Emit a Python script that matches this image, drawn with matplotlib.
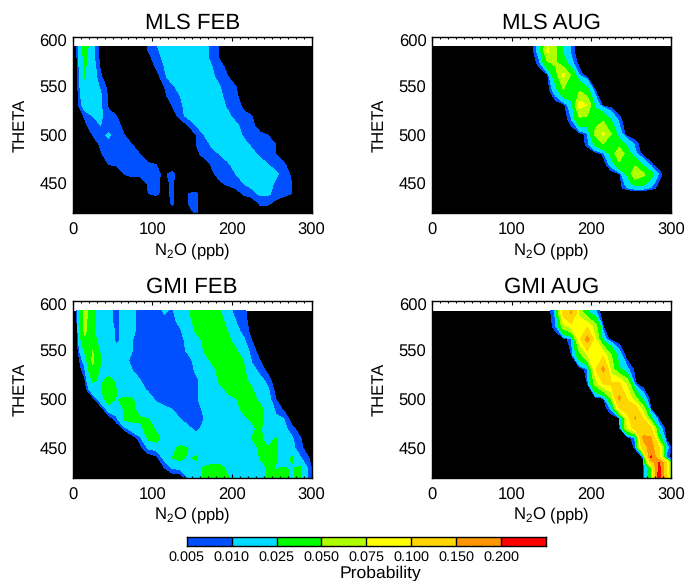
import matplotlib
matplotlib.use("Agg")
import matplotlib.pyplot as plt
import numpy as np
from matplotlib.colors import BoundaryNorm, ListedColormap
from matplotlib.transforms import ScaledTranslation

plt.rcParams["font.family"] = ["Liberation Sans", "DejaVu Sans"]
plt.rcParams["mathtext.fontset"] = "custom"
plt.rcParams["mathtext.rm"] = "Liberation Sans"
plt.rcParams["mathtext.default"] = "rm"
plt.rcParams["text.hinting"] = "no_hinting"

levels = [0.005, 0.010, 0.025, 0.050, 0.075, 0.100, 0.150, 0.200, 0.250]
level_labels = ["0.005", "0.010", "0.025", "0.050", "0.075", "0.100", "0.150", "0.200"]
colors = ["#0050ff", "#00dcff", "#00ff00", "#afff00", "#ffff00", "#ffd700", "#ff9600", "#ff0000"]

# N2O bin centres (ppb), values below are probability x 1000 per bin, zeros on the right left out
n2o_bins = np.arange(5, 306, 10)

mls_feb_theta = [420, 430, 440, 450, 460, 470, 480, 490, 500, 510, 520, 530, 540, 550, 560, 570, 580, 591]
mls_feb = [
    [0] * 14 + [3, 6],
    [0] * 12 + [6, 0, 5, 6, 0, 0, 0, 0, 0, 0, 0, 6, 6, 3],
    [0] * 9 + [5, 6, 3, 6, 0, 5, 6, 0, 0, 0, 0, 2, 6, 8, 11, 11, 8, 7, 5],
    [0] * 9 + [6, 6, 3, 6, 0, 0, 0, 0, 0, 4, 6, 8, 10, 12, 13, 12, 9, 7, 5],
    [0] * 6 + [5, 7, 7, 6, 6, 4, 7, 0, 0, 0, 0, 4, 7, 8, 10, 14, 16, 15, 13, 11, 8, 4],
    [0] * 4 + [5, 6, 7, 7, 6, 6, 5, 0, 0, 0, 0, 0, 1, 6, 8, 9, 13, 15, 15, 13, 10, 8, 6, 1],
    [0, 0, 0, 4, 8, 8, 7, 6, 5, 0, 0, 0, 0, 0, 0, 3, 7, 8, 10, 13, 15, 14, 12, 9, 7, 5, 1],
    [0, 0, 0, 6, 8, 8, 6, 5, 0, 0, 0, 0, 0, 0, 0, 5, 7, 11, 14, 15, 15, 12, 9, 7, 6, 5, 1],
    [0, 0, 5, 8, 11, 7, 5, 0, 0, 0, 0, 0, 0, 0, 0, 5, 10, 13, 15, 15, 13, 9, 7, 6, 5, 2],
    [0, 3, 9, 10, 7, 6, 4, 0, 0, 0, 0, 0, 0, 0, 5, 10, 13, 14, 15, 14, 11, 8, 6, 3],
    [0, 6, 10, 11, 7, 5, 0, 0, 0, 0, 0, 0, 0, 8, 12, 14, 15, 15, 14, 11, 8, 6, 5, 1],
    [2, 14, 14, 11, 4, 0, 0, 0, 0, 0, 0, 0, 5, 9, 12, 14, 15, 15, 12, 9, 7, 4],
    [2, 18, 14, 11, 4, 0, 0, 0, 0, 0, 0, 4, 7, 10, 13, 15, 15, 14, 11, 8, 6, 2],
    [2, 22, 14, 9, 3, 0, 0, 0, 0, 0, 0, 5, 9, 12, 14, 15, 15, 13, 10, 8, 5],
    [2, 26, 14, 6, 0, 0, 0, 0, 0, 0, 2, 9, 13, 15, 16, 17, 15, 11, 8, 5],
    [3, 27, 14, 4, 0, 0, 0, 0, 0, 0, 6, 10, 14, 16, 18, 17, 14, 10, 7, 3],
    [4, 30, 12, 3, 0, 0, 0, 0, 0, 4, 7, 12, 16, 18, 18, 16, 12, 8, 4],
    [4, 35, 12, 3, 0, 0, 0, 0, 0, 6, 9, 15, 18, 18, 18, 16, 12, 8, 4],
]

mls_aug_theta = [442, 446, 450, 460, 470, 481, 491, 501, 516, 531, 546, 562, 574, 586, 591]
mls_aug = [
    [0],
    [0] * 23 + [2, 10, 15, 15, 9, 2],
    [0] * 23 + [1, 14, 32, 30, 14, 3],
    [0] * 23 + [3, 28, 70, 55, 32, 8],
    [0] * 22 + [14, 42, 46, 46, 20, 6],
    [0] * 21 + [7, 32, 72, 36, 12, 2],
    [0] * 19 + [7, 30, 48, 48, 38, 20, 8],
    [0] * 19 + [8, 56, 80, 50, 16, 1],
    [0] * 17 + [9, 44, 42, 42, 46, 24, 7],
    [0] * 16 + [2, 18, 86, 74, 20, 2],
    [0] * 14 + [1, 16, 48, 42, 48, 32, 5],
    [0] * 14 + [4, 40, 82, 45, 9],
    [0] * 13 + [8, 46, 54, 34, 13, 2],
    [0] * 12 + [1, 16, 80, 52, 22, 8],
    [0] * 12 + [1, 16, 76, 54, 22, 8],
]

gmi_feb_theta = [420, 430, 440, 450, 460, 470, 480, 490, 500, 510, 520, 530, 540, 550, 560, 570, 580, 591]
gmi_feb = [
    [0] * 14 + [10, 16, 28, 32, 33, 26, 14, 13, 13, 13, 30, 28, 27, 24, 27, 10],
    [0] * 11 + [5, 11, 12, 14, 14, 27, 30, 30, 20, 14, 13, 13, 12, 28, 24, 26, 24, 27, 9],
    [0] * 10 + [3, 12, 25, 30, 22, 28, 14, 16, 15, 15, 15, 15, 14, 26, 27, 27, 14, 28, 11, 6],
    [0] * 8 + [3, 11, 12, 12, 20, 30, 25, 14, 14, 14, 14, 14, 13, 12, 14, 28, 27, 27, 14, 12, 7, 2],
    [0] * 8 + [8, 28, 33, 15, 13, 13, 12, 12, 12, 12, 12, 12, 12, 12, 26, 30, 14, 27, 16, 11, 6],
    [0] * 6 + [6, 15, 20, 35, 22, 13, 12, 12, 11, 9, 11, 12, 13, 14, 15, 16, 22, 28, 14, 13, 12, 7, 2],
    [0] * 5 + [8, 28, 30, 28, 25, 13, 12, 11, 10, 8, 8, 10, 13, 15, 17, 20, 22, 27, 33, 15, 11, 10, 2],
    [0] * 4 + [14, 15, 27, 32, 14, 13, 13, 11, 10, 7, 7, 8, 11, 14, 16, 18, 22, 28, 30, 32, 14, 9, 4],
    [0, 0, 0, 15, 35, 24, 28, 27, 14, 13, 9, 8, 7, 7, 8, 9, 13, 16, 18, 22, 24, 31, 32, 20, 13, 5],
    [0, 0, 18, 24, 32, 25, 14, 13, 12, 9, 7, 7, 7, 8, 8, 9, 13, 17, 22, 27, 33, 33, 27, 15, 11, 3],
    [0, 4, 28, 22, 30, 22, 13, 11, 10, 7, 6, 6, 7, 8, 8, 9, 12, 18, 28, 32, 33, 30, 17, 12, 8],
    [0, 8, 42, 22, 14, 13, 12, 10, 8, 6, 6, 7, 7, 7, 7, 11, 15, 20, 30, 33, 35, 27, 13, 8, 3],
    [0, 14, 55, 26, 13, 12, 11, 9, 7, 6, 6, 7, 7, 7, 8, 12, 18, 28, 34, 34, 34, 24, 9, 5],
    [0, 28, 50, 22, 14, 12, 11, 10, 7, 7, 7, 7, 8, 8, 11, 15, 26, 33, 34, 33, 27, 13, 8, 2],
    [0, 45, 32, 18, 13, 9, 12, 10, 8, 7, 7, 7, 8, 8, 12, 17, 28, 34, 33, 30, 18, 11, 5],
    [2, 55, 28, 17, 13, 9, 12, 11, 8, 7, 7, 7, 8, 9, 15, 27, 32, 33, 32, 24, 12, 8, 3],
    [3, 58, 30, 16, 12, 8, 13, 11, 8, 7, 7, 8, 8, 12, 20, 30, 33, 33, 30, 20, 10, 7, 2],
    [4, 60, 30, 15, 12, 8, 13, 11, 8, 7, 7, 11, 9, 15, 24, 32, 33, 32, 26, 12, 8, 6, 2],
]

gmi_aug_theta = [420, 429, 435, 441, 451, 461, 471, 481, 491, 501, 516, 531, 546, 562, 575, 589, 591]
gmi_aug = [
    [0] * 27 + [45, 230, 105],
    [0] * 26 + [3, 40, 220, 85],
    [0] * 26 + [3, 110, 210, 100],
    [0] * 26 + [6, 205, 100, 7],
    [0] * 25 + [6, 130, 170, 100, 12],
    [0] * 25 + [12, 155, 152, 35],
    [0] * 23 + [2, 75, 115, 130, 100, 15],
    [0] * 23 + [5, 80, 155, 100, 28, 3],
    [0] * 22 + [12, 100, 125, 115, 60, 2],
    [0] * 21 + [3, 50, 160, 95, 60, 18, 1],
    [0] * 19 + [5, 58, 100, 105, 105, 70, 6],
    [0] * 19 + [8, 95, 165, 62, 28, 12, 3],
    [0] * 17 + [5, 40, 78, 92, 92, 50, 15],
    [0] * 17 + [10, 90, 170, 78, 16],
    [0] * 15 + [8, 65, 85, 95, 95, 60, 5],
    [0] * 15 + [12, 115, 155, 65, 30, 12],
    [0] * 15 + [12, 110, 152, 65, 30, 12],
]

panels = [
    ("MLS FEB", mls_feb_theta, mls_feb, 72.7, 36.7),
    ("MLS AUG", mls_aug_theta, mls_aug, 432, 36.7),
    ("GMI FEB", gmi_feb_theta, gmi_feb, 72.7, 301),
    ("GMI AUG", gmi_aug_theta, gmi_aug, 432, 301),
]

W, H = 689, 581
fig = plt.figure(figsize=(W / 100, H / 100), dpi=100)


def table(rows):
    # rows stop at their last non zero bin, fill the rest of the bins with zeros
    z = np.zeros((len(rows), len(n2o_bins)))
    for i, r in enumerate(rows):
        z[i, : len(r)] = r
    return z / 1000.0


for title, theta, rows, left, top in panels:
    ax = fig.add_axes([left / W, 1 - (top + 176.5) / H, 239 / W, 176.5 / H])
    ax.axhspan(410, 591, color="k", lw=0, zorder=0)
    ax.contourf(n2o_bins, theta, table(rows), levels=levels, colors=colors, extend="max", zorder=1)
    ax.set_xlim(0, 300)
    ax.set_ylim(420, 601)
    ax.set_xticks([0, 100, 200, 300])
    ax.set_xticks(np.arange(0, 301, 10), minor=True)
    ax.set_yticks([450, 500, 550, 600])
    ax.tick_params(axis="x", which="major", direction="in", length=3, width=0.8, top=True, labelsize=12, pad=7)
    ax.tick_params(axis="x", which="minor", direction="in", length=1.5, width=0.8, top=True)
    ax.tick_params(axis="y", direction="in", length=0, labelsize=12, pad=4)
    ax.get_yticklabels()[-1].set_transform(
        ax.get_yticklabels()[-1].get_transform() + ScaledTranslation(0, -0.03, fig.dpi_scale_trans)
    )
    ax.set_xlabel("N$_2$O (ppb)", fontsize=12, labelpad=1.5)
    ax.set_ylabel("THETA", fontsize=12, labelpad=8)
    ax.set_title(title, fontsize=16, pad=6)
    for side in ax.spines.values():
        side.set_linewidth(1.0)
        side.set_zorder(5)

# colour key under the panels
cax = fig.add_axes([186.7 / W, 1 - 545.5 / H, 359.3 / W, 9 / H])
cmap = ListedColormap(colors)
cells = np.arange(len(colors)).reshape(1, -1)
cax.pcolormesh(np.arange(len(colors) + 1), [0, 1], cells, cmap=cmap, norm=BoundaryNorm(np.arange(-0.5, 8.5), 8))
cax.set_xticks(np.arange(len(colors)), level_labels)
cax.set_yticks([])
cax.tick_params(length=0, labelsize=10.4, pad=4)
for edge in range(1, len(colors)):
    cax.axvline(edge, color="k", lw=1.0)
for side in cax.spines.values():
    side.set_linewidth(1.0)
fig.text(380.7 / W, 1 - 573 / H, "Probability", ha="center", va="center", fontsize=12.6)

fig.savefig("out.png", dpi=100)
